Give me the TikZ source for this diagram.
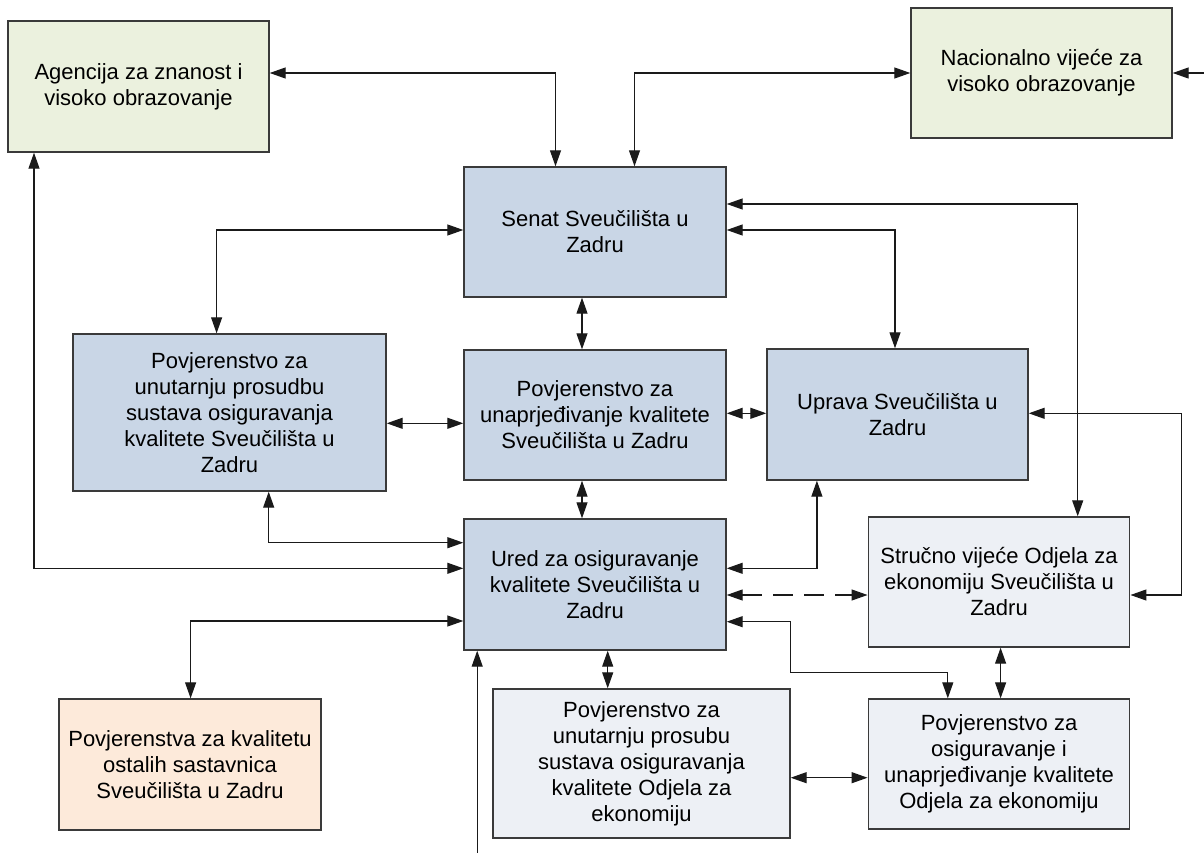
\documentclass[tikz,border=0pt]{standalone}
\usepackage{fontspec}
\setmainfont{Liberation Sans}
\usetikzlibrary{arrows.meta}
\definecolor{cgreen}{HTML}{EBF1DE}
\definecolor{cblue}{HTML}{C9D6E6}
\definecolor{clight}{HTML}{EDF0F5}
\definecolor{cpeach}{HTML}{FDEADA}
\definecolor{boxline}{HTML}{3A3A3A}
\definecolor{conline}{HTML}{1A1A1A}
\begin{document}
\begin{tikzpicture}[x=1pt,y=-1pt,
  box/.style={draw=boxline,line width=1.4pt,inner sep=0pt,align=center,
    font=\fontsize{22}{26}\selectfont},
  conn/.style={draw=conline,line width=1.2pt,
    {Triangle[length=16pt,width=11pt]}-{Triangle[length=16pt,width=11pt]}},
  oneway/.style={draw=conline,line width=1.2pt,-{Triangle[length=16pt,width=11pt]}}]
\useasboundingbox[fill=white] (0,0) rectangle (1204,853);

\node[box,fill=cgreen,minimum width=261pt,minimum height=131pt] (ag) at (138.5,86.5)
  {Agencija za znanost i\\visoko obrazovanje};
\node[box,fill=cgreen,minimum width=261pt,minimum height=130pt] (nac) at (1041.5,73)
  {Nacionalno vijeće za\\visoko obrazovanje};
\node[box,fill=cblue,minimum width=262pt,minimum height=130pt] (senat) at (595,232)
  {Senat Sveučilišta u\\Zadru};
\node[box,fill=cblue,minimum width=313pt,minimum height=157pt] (pun) at (229.5,412.5)
  {Povjerenstvo za\\unutarnju prosudbu\\sustava osiguravanja\\kvalitete Sveučilišta u\\Zadru};
\node[box,fill=cblue,minimum width=262pt,minimum height=130pt] (puq) at (595,415)
  {Povjerenstvo za\\unaprjeđivanje kvalitete\\Sveučilišta u Zadru};
\node[box,fill=cblue,minimum width=261pt,minimum height=131pt] (upr) at (897.5,414.5)
  {Uprava Sveučilišta u\\Zadru};
\node[box,fill=cblue,minimum width=262pt,minimum height=131pt] (ured) at (595,584.5)
  {Ured za osiguravanje\\kvalitete Sveučilišta u\\Zadru};
\node[box,fill=clight,minimum width=261.5pt,minimum height=130pt] (stru) at (999,582)
  {Stručno vijeće Odjela za\\ekonomiju Sveučilišta u\\Zadru};
\node[box,fill=cpeach,minimum width=262pt,minimum height=131pt] (pkv) at (190,764.5)
  {Povjerenstva za kvalitetu\\ostalih sastavnica\\Sveučilišta u Zadru};
\node[box,fill=clight,minimum width=297pt,minimum height=149pt] (ppr) at (641.5,763.5)
  {Povjerenstvo za\\unutarnju prosubu\\sustava osiguravanja\\kvalitete Odjela za\\ekonomiju};
\node[box,fill=clight,minimum width=261.5pt,minimum height=130pt] (pos) at (999,764)
  {Povjerenstvo za\\osiguravanje i\\unaprjeđivanje kvalitete\\Odjela za ekonomiju};

\coordinate (edgeR) at (1204,73);
\coordinate (edgeB) at (477.2,853);

\draw[conn] (ag.east |- nac.west) -| ([xshift=-39.5pt]senat.north);
\draw[conn] ([xshift=39.5pt]senat.north) |- (nac.west);
\draw[oneway] (edgeR) -- (nac.east);
\draw[conn] (senat.west |- 0,230) -| (pun.north -| 216.6,0);
\draw[conn] ([xshift=-13pt]senat.south) -- ([xshift=-13pt]puq.north);
\draw[conn] (pun.east |- 0,423.3) -- (puq.west |- 0,423.3);
\draw[conn] (puq.east |- 0,413.3) -- (upr.west |- 0,413.3);
\draw[conn] (senat.east |- 0,230) -| (upr.north -| 895,0);
\draw[conn] (senat.east |- 0,204) -| (stru.north -| 1077.7,0);
\draw[conn] (upr.east |- 0,413.3) -- (1181.7,413.3) |- (stru.east |- 0,595);
\draw[conn] ([xshift=-13pt]puq.south) -- ([xshift=-13pt]ured.north);
\draw[conn] (pun.south -| 268.7,0) |- (ured.west |- 0,542.7);
\draw[conn] (ag.south -| 34,0) |- (ured.west |- 0,568.3);
\draw[conn] (ured.west |- 0,621) -| (pkv.north -| 190.6,0);
\draw[conn] (upr.south -| 816.9,0) |- (ured.east |- 0,568.3);
\draw[conn,dash pattern=on 20pt off 11pt] (ured.east |- 0,595) -- (stru.west |- 0,595);
\draw[conn] (ured.east |- 0,621.7) -| (790.5,672.7) -| (pos.north -| 947.8,0);
\draw[oneway] (edgeB) -- (ured.south -| 477.2,0);
\draw[conn] (ured.south -| 607.7,0) -- (ppr.north -| 607.7,0);
\draw[conn] (stru.south -| 1000.6,0) -- (pos.north -| 1000.6,0);
\draw[conn] (ppr.east |- 0,777.7) -- (pos.west |- 0,777.7);
\end{tikzpicture}
\end{document}
